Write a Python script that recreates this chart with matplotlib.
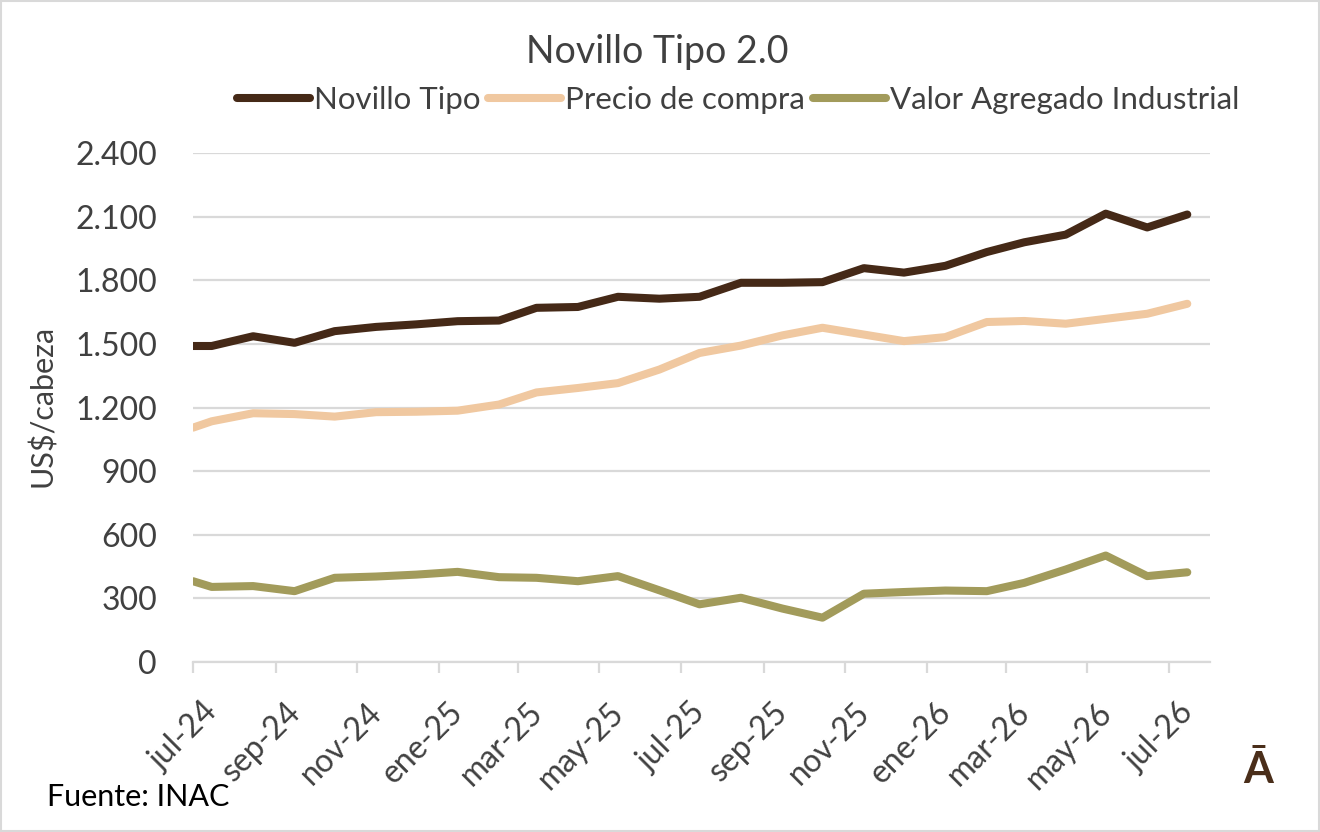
import matplotlib
matplotlib.use("Agg")
import matplotlib.pyplot as plt
import matplotlib.dates as mdates
from matplotlib.transforms import ScaledTranslation
from matplotlib.patches import Rectangle
import pandas as pd

plt.rcParams['font.family'] = ['Lato', 'DejaVu Sans']

dates = ["2024-07-01", "2024-07-15", "2024-08-15", "2024-09-15", "2024-10-15", "2024-11-15",
         "2024-12-15", "2025-01-15", "2025-02-15", "2025-03-15", "2025-04-15", "2025-05-15",
         "2025-06-15", "2025-07-15", "2025-08-15", "2025-09-15", "2025-10-15", "2025-11-15",
         "2025-12-15", "2026-01-15", "2026-02-15", "2026-03-15", "2026-04-15", "2026-05-15",
         "2026-06-15", "2026-07-15"]
novillo = [1490, 1490, 1536, 1505, 1560, 1580, 1592, 1607, 1610, 1670, 1674, 1722, 1713,
           1722, 1788, 1788, 1791, 1857, 1836, 1868, 1933, 1979, 2015, 2114, 2049, 2110]
precio = [1105, 1135, 1173, 1169, 1157, 1178, 1180, 1185, 1214, 1271, 1292, 1315, 1379,
          1457, 1492, 1540, 1576, 1544, 1513, 1532, 1603, 1608, 1595, 1618, 1642, 1689]
valor = [381, 354, 358, 334, 397, 403, 412, 425, 400, 397, 381, 405, 338,
         272, 303, 252, 209, 322, 330, 337, 334, 373, 436, 502, 405, 423]

series_names = ["Novillo Tipo", "Precio de compra", "Valor Agregado Industrial"]
series_colors = ["#452917", "#F0C8A0", "#A29B5B"]

tick_dates = ["2024-07-01", "2024-09-01", "2024-11-01", "2025-01-01", "2025-03-01", "2025-05-01",
              "2025-07-01", "2025-09-01", "2025-11-01", "2026-01-01", "2026-03-01", "2026-05-01",
              "2026-07-01"]
tick_labels = ["jul-24", "sep-24", "nov-24", "ene-25", "mar-25", "may-25", "jul-25",
               "sep-25", "nov-25", "ene-26", "mar-26", "may-26", "jul-26"]
y_ticks = [0, 300, 600, 900, 1200, 1500, 1800, 2100, 2400]
y_labels = ["0", "300", "600", "900", "1.200", "1.500", "1.800", "2.100", "2.400"]

W, H = 1320, 832
fig = plt.figure(figsize=(W / 100, H / 100), dpi=100)
ax = fig.add_axes([193 / W, 1 - 662 / H, (1210 - 193) / W, (662 - 153) / H])

x = pd.to_datetime(dates)
text_col = "#404040"
grid_col = "#D9D9D9"

for vals, name, col in zip([novillo, precio, valor], series_names, series_colors):
    ax.plot(x, vals, color=col, lw=5.8, solid_capstyle='round', solid_joinstyle='round',
            label=name, zorder=3)

ax.set_xlim(pd.Timestamp("2024-07-01"), pd.Timestamp("2026-08-01"))
ax.set_ylim(0, 2400)
ax.set_yticks(y_ticks)
ax.set_yticklabels(y_labels, fontsize=23, color=text_col)
ax.set_xticks(pd.to_datetime(tick_dates))
ax.set_xticklabels(tick_labels, fontsize=23, color=text_col, rotation=45,
                   ha='right', va='center', rotation_mode='anchor')

ax.yaxis.grid(True, color=grid_col, lw=1.6)
ax.set_axisbelow(True)
for s in ["top", "right", "left"]:
    ax.spines[s].set_visible(False)
ax.spines["bottom"].set_color(grid_col)
ax.spines["bottom"].set_linewidth(1.6)
ax.tick_params(axis='y', length=0, pad=26)
ax.tick_params(axis='x', length=8, width=1.6, color=grid_col, pad=25)

off = ScaledTranslation(20 / 100, 0, fig.dpi_scale_trans)
for lab in ax.get_xticklabels():
    lab.set_transform(lab.get_transform() + off)

fig.text(657 / W, 1 - 52 / H, "Novillo Tipo 2.0", fontsize=27, color=text_col,
         ha='center', va='center')
fig.text(43 / W, 1 - 406 / H, "US$/cabeza", fontsize=22, color=text_col,
         rotation=90, ha='center', va='center')
fig.text(47 / W, 1 - 797 / H, "Fuente: INAC", fontsize=22, color="#000000",
         ha='left', va='center')
fig.text(1258 / W, 1 - 770 / H, "Ā", fontsize=31, fontweight='bold', color="#4A2E1A",
         ha='center', va='center')

leg = fig.legend(loc='center', bbox_to_anchor=(738 / W, 1 - 100 / H), ncol=3,
                 frameon=False, fontsize=22.5, handlelength=2.35, handletextpad=0.12,
                 columnspacing=0.25, labelcolor=text_col)

fig.patches.append(Rectangle((0.001, 0.001), 0.998, 0.998, transform=fig.transFigure,
                             fill=False, edgecolor=grid_col, lw=1.5))

fig.savefig("out.png", dpi=100, facecolor="white")
